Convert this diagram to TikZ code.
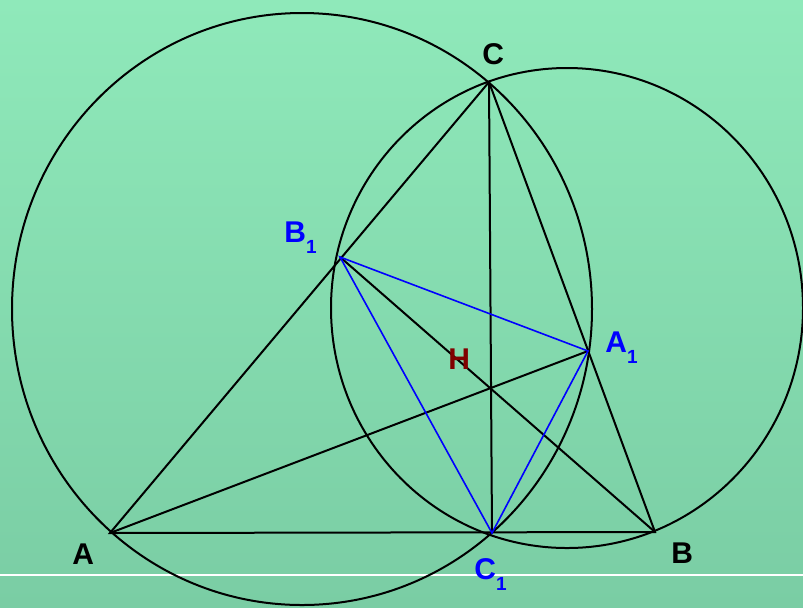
\documentclass[tikz,border=0pt]{standalone}
\usepackage{fontspec}
\setmainfont{Liberation Sans}
\usetikzlibrary{calc}

\definecolor{bgtop}{RGB}{143,233,186}
\definecolor{bgbottom}{RGB}{122,205,164}
\definecolor{hred}{RGB}{128,0,0}
\newcommand{\lowsub}[1]{\raisebox{-5.5pt}{\fontsize{9.5}{10}\selectfont #1}}

\begin{document}
\begin{tikzpicture}[
  x=0.5pt, y=-0.5pt,
  font=\fontsize{15}{17}\selectfont\bfseries,
  seg/.style={draw=black, line width=1pt},
  ortho/.style={draw=blue, line width=0.8pt},
  lbl/.style={inner sep=0pt, anchor=base west}
]

% background
\shade[top color=bgtop, bottom color=bgbottom] (0,0) rectangle (803,607);
\useasboundingbox (0,0) rectangle (803,607);
\clip (0,0) rectangle (803,607);
\draw[white, line width=0.6pt] (0,575) -- (803,575);

% triangle and feet of the altitudes
\coordinate (A) at (110,533);
\coordinate (B) at (655,532);
\coordinate (C) at (489,82);
\coordinate (A1) at (588,351);
\coordinate (B1) at (340,257);
\coordinate (C1) at (492,533);

% circles on AC and BC
\draw[seg] (302,309) ellipse [x radius=290, y radius=296];
\draw[seg] (567,308) ellipse [x radius=236, y radius=240];

\draw[seg] (A) -- (B) -- (C) -- cycle;
\draw[seg] (A) -- (A1);
\draw[seg] (B) -- (B1);
\draw[seg] (C) -- (C1);

\draw[ortho] (A1) -- (B1) -- (C1) -- cycle;

\node[lbl] (la) at (72,564) {A};
\node[lbl] (lb) at (671,563) {B};
\node[lbl] (lc) at (482,64) {C};
\node[lbl, blue] (la1) at (605,352) {A\lowsub{1}};
\node[lbl, blue] (lb1) at (284,242) {B\lowsub{1}};
\node[lbl, blue] (lc1) at (474,579) {C\lowsub{1}};
\node[lbl, hred] (lh) at (448,369) {H};

\end{tikzpicture}
\end{document}
